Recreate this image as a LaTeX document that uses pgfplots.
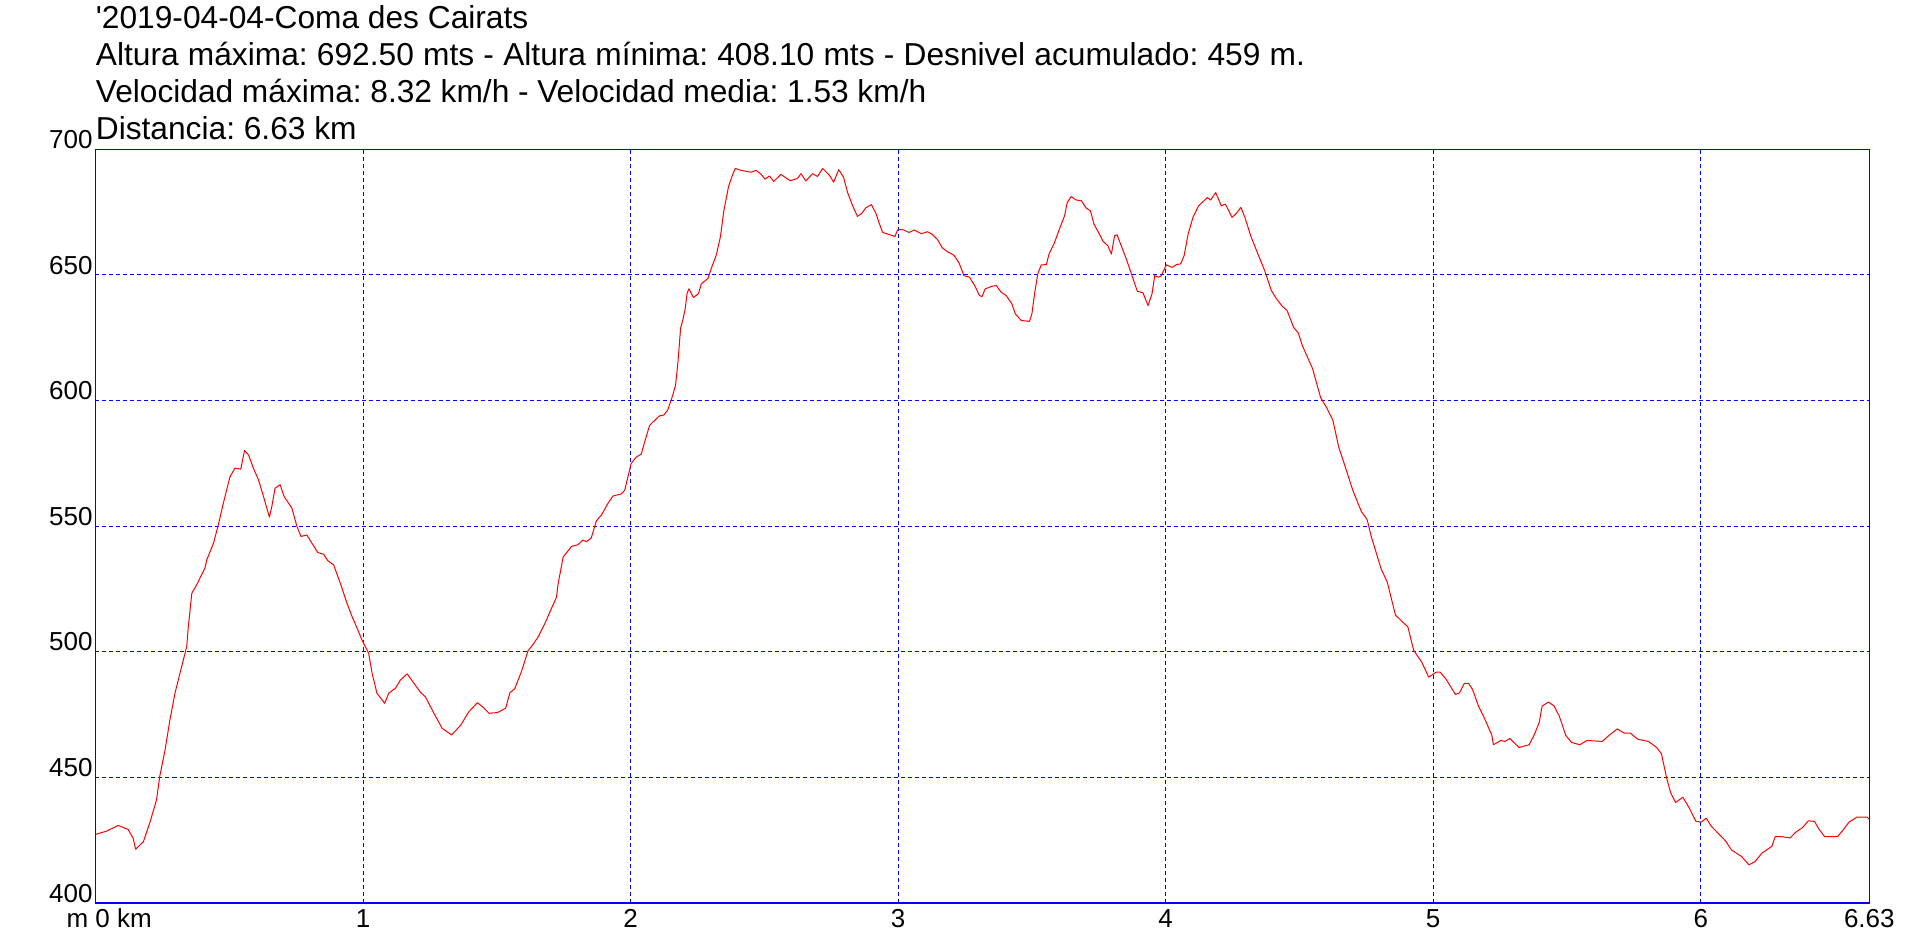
\documentclass[border=0pt]{standalone}
\usepackage{pgfplots}
\pgfplotsset{compat=1.18}
\usepackage{fontspec}
\setmainfont{Liberation Sans}
\definecolor{gblue}{RGB}{0,0,255}
\definecolor{gred}{RGB}{255,0,0}
\begin{document}
\frenchspacing
\begin{tikzpicture}
\useasboundingbox (-47.75pt,-23.5pt) rectangle (910.25pt,451.5pt);
\begin{axis}[
  at={(0pt,0pt)}, anchor=south west,
  scale only axis, width=886.9pt, height=376.85pt,
  xmin=0, xmax=6.63, ymin=400, ymax=700,
  enlargelimits=false,
  axis line style={gblue, line width=0.6pt},
  xtick={0,1,2,3,4,5,6,6.63},
  xticklabels={{\makebox[0pt][l]{\llap{m }0 km}},1,2,3,4,5,6,6.63},
  ytick={400,450,500,550,600,650,700},
  yticklabels={400,450,500,550,600,650,700},
  major tick length=0pt,
  grid=major,
  major grid style={gblue, line width=0.5pt, dash pattern=on 2pt off 1.5pt},
  xticklabel style={anchor=base, inner sep=0pt, yshift=-12pt, font=\fontsize{13pt}{15pt}\selectfont},
  yticklabel style={anchor=base east, inner sep=0pt, xshift=-1.3pt, yshift=0.4pt, font=\fontsize{13pt}{15pt}\selectfont},
]
\addplot[gred, line width=0.5pt, line join=round, mark=none] coordinates {
(0.000,427.3) (0.041,428.6) (0.085,430.9) (0.122,429.3) (0.141,425.7) (0.150,421.4) (0.179,424.4) (0.204,432.3) (0.228,441.0) (0.240,450.3)
(0.260,460.9) (0.278,472.8) (0.297,483.5) (0.322,494.1) (0.341,502.1) (0.347,510.0) (0.360,523.3) (0.378,526.6) (0.409,533.3) (0.416,536.6)
(0.441,543.2) (0.459,550.5) (0.478,559.2) (0.503,569.8) (0.522,573.1) (0.543,572.7) (0.557,580.1) (0.572,578.4) (0.590,573.1) (0.609,568.5)
(0.628,561.8) (0.650,553.6) (0.659,557.8) (0.671,565.1) (0.690,566.5) (0.705,561.8) (0.734,557.2) (0.753,549.9) (0.768,545.9) (0.790,546.5)
(0.809,543.2) (0.831,539.5) (0.853,538.8) (0.868,536.3) (0.890,534.6) (0.915,527.3) (0.940,519.3) (0.959,514.0) (0.977,509.6) (0.996,504.7)
(1.021,499.4) (1.034,491.4) (1.052,483.5) (1.081,479.5) (1.096,483.5) (1.121,485.5) (1.140,488.8) (1.165,491.2) (1.190,487.5) (1.215,483.8)
(1.233,482.1) (1.265,475.5) (1.296,469.5) (1.331,466.9) (1.365,470.8) (1.396,476.2) (1.427,479.7) (1.446,478.2) (1.471,475.5) (1.502,475.8)
(1.533,477.5) (1.549,483.7) (1.567,485.3) (1.592,492.1) (1.617,500.5) (1.629,502.0) (1.654,505.8) (1.679,511.1) (1.704,517.2) (1.723,521.7)
(1.729,527.0) (1.748,537.7) (1.779,541.9) (1.803,542.6) (1.822,544.5) (1.835,543.8) (1.853,545.3) (1.872,552.1) (1.891,554.4) (1.915,559.0)
(1.934,562.0) (1.965,562.8) (1.978,564.3) (2.002,574.9) (2.021,577.5) (2.040,578.7) (2.052,583.3) (2.071,590.1) (2.090,592.1) (2.108,593.9)
(2.124,594.2) (2.139,596.2) (2.158,602.3) (2.168,606.1) (2.177,615.2) (2.187,628.9) (2.195,631.9) (2.204,636.5) (2.211,642.6) (2.218,644.5)
(2.235,641.0) (2.254,642.6) (2.264,646.4) (2.289,648.6) (2.301,652.4) (2.320,657.8) (2.336,665.3) (2.348,675.2) (2.366,685.1) (2.378,688.9)
(2.391,692.4) (2.413,691.6) (2.450,690.9) (2.469,691.6) (2.488,690.1) (2.502,688.1) (2.519,689.4) (2.535,687.2) (2.562,690.0) (2.581,688.6)
(2.597,687.5) (2.624,688.4) (2.637,690.3) (2.655,687.4) (2.680,690.3) (2.699,689.2) (2.718,692.4) (2.743,689.7) (2.759,686.9) (2.778,691.9)
(2.796,688.9) (2.811,682.8) (2.830,677.5) (2.848,673.3) (2.864,674.5) (2.879,676.7) (2.900,678.0) (2.917,674.5) (2.929,670.7) (2.942,666.9)
(2.966,666.1) (2.988,665.3) (2.998,667.9) (3.016,668.1) (3.041,666.9) (3.060,667.9) (3.087,666.4) (3.110,667.2) (3.128,666.1) (3.147,664.1)
(3.165,660.8) (3.184,659.3) (3.209,657.8) (3.228,654.7) (3.246,649.7) (3.267,649.1) (3.286,645.8) (3.304,641.8) (3.314,641.4) (3.325,644.4)
(3.348,645.4) (3.367,645.8) (3.385,643.1) (3.404,641.8) (3.425,638.5) (3.438,634.5) (3.460,631.9) (3.491,631.5) (3.500,634.5) (3.510,642.5)
(3.522,650.4) (3.535,654.0) (3.554,654.1) (3.564,658.3) (3.585,663.0) (3.603,668.3) (3.622,673.5) (3.632,678.8) (3.647,681.2) (3.666,679.8)
(3.685,679.5) (3.703,676.6) (3.719,675.5) (3.732,670.2) (3.749,666.9) (3.766,663.4) (3.784,661.6) (3.797,658.3) (3.809,665.6) (3.818,666.0)
(3.834,661.6) (3.853,656.3) (3.872,650.4) (3.894,643.5) (3.915,642.9) (3.934,637.8) (3.949,642.5) (3.959,649.7) (3.974,649.1) (3.984,649.7)
(4.002,654.0) (4.024,653.0) (4.040,654.1) (4.056,654.4) (4.069,657.7) (4.084,666.3) (4.102,672.9) (4.123,677.5) (4.140,679.2) (4.156,680.8)
(4.168,679.8) (4.187,682.8) (4.208,677.5) (4.223,678.2) (4.248,672.9) (4.264,674.5) (4.281,676.9) (4.296,672.9) (4.320,664.9) (4.345,658.3)
(4.370,651.7) (4.395,643.8) (4.414,640.5) (4.436,637.5) (4.454,635.8) (4.478,629.2) (4.496,626.8) (4.511,621.8) (4.549,612.7) (4.579,601.2)
(4.602,597.1) (4.625,592.1) (4.647,581.4) (4.670,574.0) (4.700,564.1) (4.731,555.9) (4.753,552.6) (4.768,546.0) (4.806,532.8) (4.828,527.8)
(4.859,514.6) (4.882,512.2) (4.905,510.0) (4.927,500.6) (4.958,495.7) (4.983,489.9) (5.011,491.9) (5.026,491.9) (5.048,489.1) (5.083,483.0)
(5.098,483.6) (5.116,487.4) (5.132,487.4) (5.147,485.0) (5.169,478.4) (5.192,473.4) (5.219,466.8) (5.225,463.0) (5.253,464.7) (5.268,464.3)
(5.286,465.5) (5.321,461.9) (5.359,463.0) (5.377,466.8) (5.396,471.8) (5.407,478.4) (5.431,480.0) (5.452,478.4) (5.472,474.2) (5.495,466.8)
(5.517,463.9) (5.548,463.0) (5.575,464.7) (5.631,464.3) (5.658,466.8) (5.688,469.3) (5.714,467.6) (5.737,467.6) (5.764,465.2) (5.805,464.3)
(5.835,461.9) (5.853,459.4) (5.873,449.5) (5.888,443.7) (5.906,440.0) (5.933,442.1) (5.956,438.0) (5.982,432.5) (6.002,432.2) (6.020,433.8)
(6.039,430.6) (6.062,428.1) (6.092,424.8) (6.115,421.1) (6.153,418.5) (6.180,415.2) (6.203,416.5) (6.228,419.8) (6.266,422.6) (6.278,426.4)
(6.304,426.4) (6.334,425.9) (6.354,428.1) (6.380,430.0) (6.402,432.7) (6.425,432.5) (6.440,429.7) (6.463,426.4) (6.511,426.4) (6.531,428.9)
(6.554,432.2) (6.584,434.2) (6.622,434.2) (6.629,433.4)
};
\end{axis}
\begin{scope}[every node/.style={anchor=base west, inner sep=0pt, font=\fontsize{15.85pt}{18.5pt}\selectfont}]
\node at (0pt,437pt) {\XeTeXglyph\XeTeXglyphindex "quotesingle"\relax 2019-04-04-Coma des Cairats};
\node at (0pt,418.5pt) {\makebox[604.6pt][s]{Altura máxima: 692.50 mts - Altura mínima: 408.10 mts - Desnivel acumulado: 459 m.}};
\node at (0pt,400pt) {\makebox[415.2pt][s]{Velocidad máxima: 8.32 km/h - Velocidad media: 1.53 km/h}};
\node at (0pt,381.5pt) {Distancia: 6.63 km};
\end{scope}
\end{tikzpicture}
\end{document}
